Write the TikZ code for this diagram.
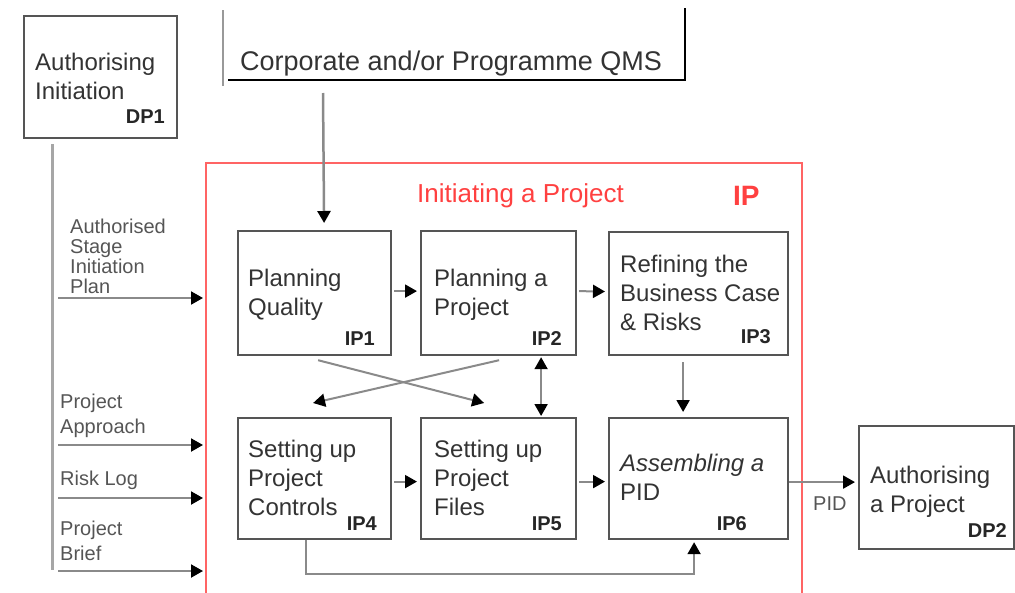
\documentclass[tikz,border=0pt]{standalone}
\usepackage{fontspec}
\setmainfont{Liberation Sans}
\usetikzlibrary{arrows.meta,calc}
\definecolor{boxc}{HTML}{555555}
\definecolor{txt}{HTML}{333333}
\definecolor{lbl}{HTML}{555555}
\definecolor{arrc}{HTML}{8A8A8A}
\definecolor{redb}{HTML}{FF6464}
\definecolor{redt}{HTML}{FF4040}
\tikzset{
  pbox/.style={draw=boxc, line width=2.2pt, anchor=north west, inner sep=0pt},
  arr/.style={draw=arrc, line width=2pt, -{Triangle[length=12pt,width=13pt,color=black]}},
  darr/.style={draw=arrc, line width=2pt, {Triangle[length=12pt,width=13pt,color=black]}-{Triangle[length=12pt,width=13pt,color=black]}},
  btxt/.style={font=\fontsize{24}{29}\selectfont, text=txt, anchor=base west, align=left, inner sep=0pt},
  code/.style={font=\fontsize{20}{20}\selectfont\bfseries, text=black!85, anchor=base east, inner sep=0pt},
  ltxt/.style={font=\fontsize{20}{20}\selectfont, text=lbl, anchor=base west, align=left, inner sep=0pt},
  ltxtw/.style={font=\fontsize{20}{25}\selectfont, text=lbl, anchor=base west, align=left, inner sep=0pt},
}
\begin{document}
\begin{tikzpicture}[x=1pt,y=-1pt]
\useasboundingbox (0,0) rectangle (1015,592);
% DP1
\node[pbox, minimum width=153pt, minimum height=122pt] (dp1) at (23,15) {};
\node[btxt] (dp1t) at (35,99) {Authorising\\Initiation};
\node[code] (dp1c) at (165,123) {DP1};
% vertical feed line
\coordinate (feedtop) at ([xshift=-48.5pt,yshift=-5pt]dp1.south);
\draw[draw=black!35, line width=3pt] (feedtop) -- ++(0,426);
% Corporate QMS
\node[font=\fontsize{27}{27}\selectfont, text=txt, anchor=base west, inner sep=0pt] (qms) at (240,70) {Corporate and/or Programme QMS};
\draw[draw=black!40, line width=2pt] (223,10) -- (223,86);
\draw[draw=black, line width=2.5pt] (685,8) -- (685,81);
\draw[draw=black, line width=2.5pt] (228,80) -- (684,80);
% red IP box
\draw[draw=redb, line width=2pt] (206,595) -- (206,163) -- (802,163) -- (802,595);
\node[font=\fontsize{26}{26}\selectfont, text=redt, anchor=base west, inner sep=0pt] (iptitle) at (417,202) {Initiating a Project};
\node[font=\fontsize{28}{28}\selectfont\bfseries, text=redt, anchor=base west, inner sep=0pt] (ipcode) at (733,205) {IP};
% process boxes
\node[pbox, minimum width=153pt, minimum height=124pt] (ip1) at (237,230) {};
\node[pbox, minimum width=155pt, minimum height=124pt] (ip2) at (420,230) {};
\node[pbox, minimum width=179pt, minimum height=123pt] (ip3) at (608,231) {};
\node[pbox, minimum width=153pt, minimum height=121pt] (ip4) at (237,417) {};
\node[pbox, minimum width=155pt, minimum height=121pt] (ip5) at (420,417) {};
\node[pbox, minimum width=179pt, minimum height=121pt] (ip6) at (608,417) {};
\node[pbox, minimum width=155pt, minimum height=123pt] (dp2) at (858,425) {};
% box texts (anchor = baseline of last line)
\node[btxt] (ip1t) at (248,315) {Planning\\Quality};
\node[code] (ip1c) at (375,345) {IP1};
\node[btxt] (ip2t) at (434,315) {Planning a\\Project};
\node[code] (ip2c) at (562,345) {IP2};
\node[btxt] (ip3t) at (620,330) {Refining the\\Business Case\\\& Risks};
\node[code] (ip3c) at (771,343) {IP3};
\node[btxt] (ip4t) at (248,515) {Setting up\\Project\\Controls};
\node[code] (ip4c) at (377,530) {IP4};
\node[btxt] (ip5t) at (434,515) {Setting up\\Project\\Files};
\node[code] (ip5c) at (562,530) {IP5};
\node[btxt] (ip6t) at (620,500) {\itshape Assembling a\\PID};
\node[code] (ip6c) at (747,530) {IP6};
\node[btxt] (dp2t) at (870,512) {Authorising\\a Project};
\node[code] (dp2c) at (1007,537) {DP2};
% QMS arrow
\coordinate (qmsfoot) at (323,93);
\draw[arr, line width=2.5pt] (qmsfoot) -- ([xshift=9.5pt,yshift=7pt]ip1.north);
% horizontal arrows
\draw[arr, shorten <=2pt, shorten >=3pt] ([yshift=2pt]ip1.east) -- ([yshift=2pt]ip2.west);
\draw[arr, shorten <=2pt, shorten >=3pt] ([yshift=2pt]ip2.east) -- ([yshift=2pt]ip3.west);
\draw[arr, shorten <=2pt, shorten >=3pt] ([yshift=-3pt]ip4.east) -- ([yshift=-3pt]ip5.west);
\draw[arr, shorten <=2pt, shorten >=3pt] ([yshift=-3pt]ip5.east) -- ([yshift=-3pt]ip6.west);
\coordinate (p6) at ([yshift=-3.5pt]ip6.east);
\draw[arr, shorten >=3pt] (p6) -- (p6 -| dp2.west);
\node[font=\fontsize{20}{20}\selectfont, text=lbl, anchor=base west, inner sep=0pt] (pidl) at (813,510) {PID};
% vertical arrows
\draw[arr, shorten <=6pt, shorten >=5pt] ([xshift=-15.5pt]ip3.south) -- ([xshift=-15.5pt]ip6.north);
\draw[darr, shorten <=1pt, shorten >=1pt] ([xshift=42.5pt]ip2.south) -- ([xshift=42.5pt]ip5.north);
% crossing arrows
\draw[arr] ([xshift=3.5pt,yshift=-4pt]ip1.south) -- ([xshift=-14.5pt,yshift=14pt]ip5.north);
\draw[arr] ([xshift=0.5pt,yshift=-4pt]ip2.south) -- ([xshift=-1.5pt,yshift=14pt]ip4.north);
% loop IP4 -> IP6
\draw[arr, shorten >=2pt] ([xshift=-8.5pt]ip4.south) -- ++(0,34) -| ([xshift=-4.5pt]ip6.south);
% left inputs
\coordinate (a1s) at (58,298); \coordinate (a1e) at (203,298);
\coordinate (a2s) at (58,445); \coordinate (a2e) at (203,445);
\coordinate (a3s) at (58,498); \coordinate (a3e) at (203,498);
\coordinate (a4s) at (58,571); \coordinate (a4e) at (203,571);
\draw[arr] (a1s) -- (a1e);
\draw[arr] (a2s) -- (a2e);
\draw[arr] (a3s) -- (a3e);
\draw[arr] (a4s) -- (a4e);
\node[ltxt] (l1) at (70,293) {Authorised\\Stage\\Initiation\\Plan};
\node[ltxtw] (l2) at (60,433) {Project\\Approach};
\node[ltxt] (l3) at (60,485) {Risk Log};
\node[ltxtw] (l4) at (60,560) {Project\\Brief};
\end{tikzpicture}
\end{document}
